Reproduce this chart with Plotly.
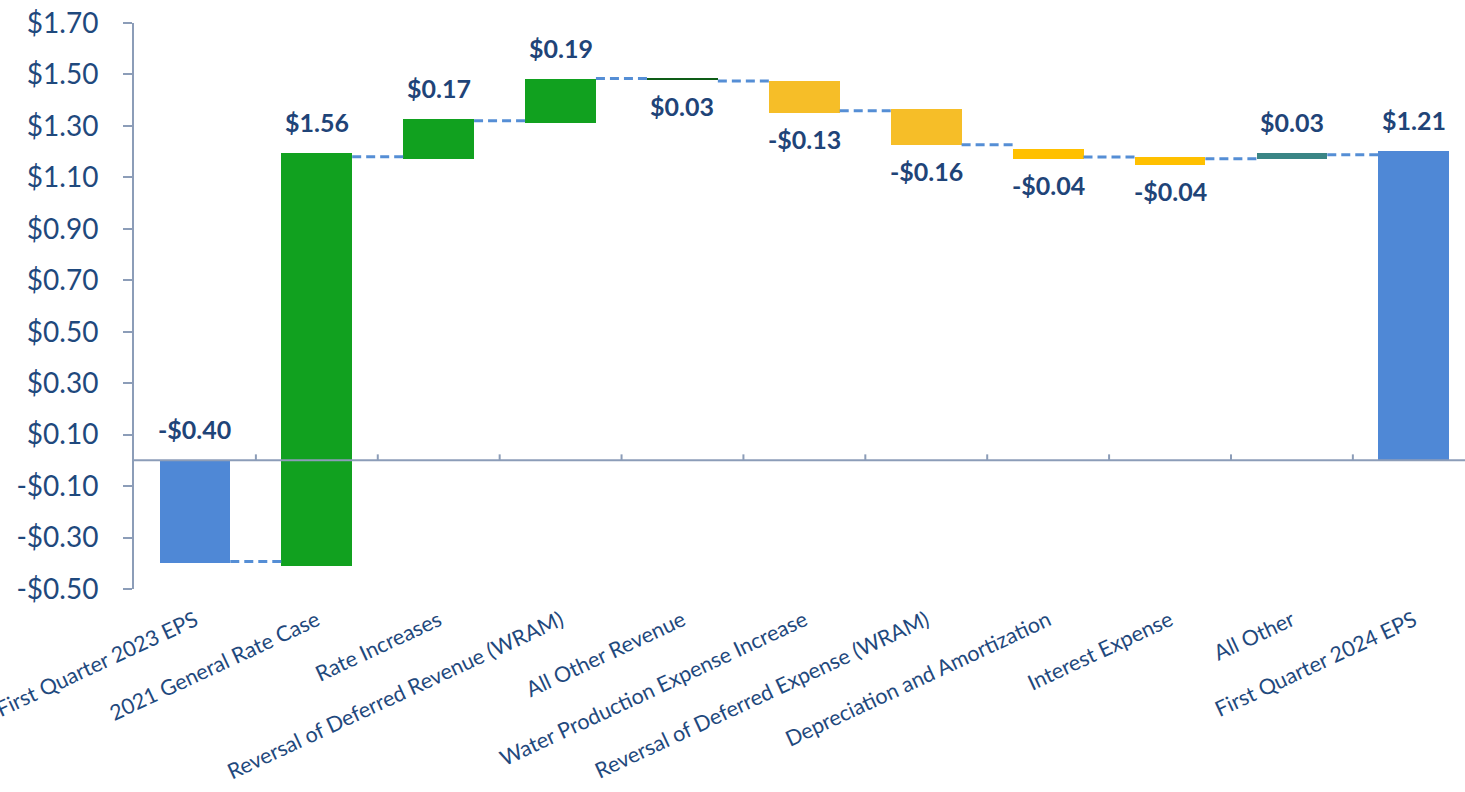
import plotly.graph_objects as go

categories = [
    "First Quarter 2023 EPS",
    "2021 General Rate Case",
    "Rate Increases",
    "Reversal of Deferred Revenue (WRAM)",
    "All Other Revenue",
    "Water Production Expense Increase",
    "Reversal of Deferred Expense (WRAM)",
    "Depreciation and Amortization",
    "Interest Expense",
    "All Other",
    "First Quarter 2024 EPS",
]
# bar extents as drawn
bar_start = [0.0, -0.409, 1.172, 1.313, 1.477, 1.475, 1.366, 1.210, 1.179, 1.172, 0.0]
bar_end = [-0.400, 1.195, 1.327, 1.482, 1.486, 1.351, 1.227, 1.172, 1.149, 1.193, 1.202]
# data-label texts
value_labels = ["-$0.40", "$1.56", "$0.17", "$0.19", "$0.03", "-$0.13",
                "-$0.16", "-$0.04", "-$0.04", "$0.03", "$1.21"]
# dashed connector levels between consecutive bars
connector_levels = [-0.393, 1.180, 1.320, 1.484, 1.475, 1.359, 1.227, 1.179, 1.172, 1.188]
# y-axis ticks
y_tick_values = [-0.5, -0.3, -0.1, 0.1, 0.3, 0.5, 0.7, 0.9, 1.1, 1.3, 1.5, 1.7]
y_tick_labels = ["-$0.50", "-$0.30", "-$0.10", "$0.10", "$0.30", "$0.50",
                 "$0.70", "$0.90", "$1.10", "$1.30", "$1.50", "$1.70"]

# styles
bar_colors = ["#4F88D6", "#11A11F", "#11A11F", "#11A11F", "#0E5C16", "#F6BE28",
              "#F6BE28", "#FFC000", "#FFC000", "#3A8585", "#4F88D6"]
label_side = ["above", "above", "above", "above", "below", "below",
              "below", "below", "below", "above", "above"]
BAR_W = 0.58
TEXT = "#1F497D"
LABEL = "#1F4478"
AXIS = "#8C9DB8"
FONT = "Lato"

x_idx = list(range(len(categories)))
fig = go.Figure()
fig.add_trace(go.Bar(
    x=x_idx,
    base=bar_start,
    y=[e - s for s, e in zip(bar_start, bar_end)],
    width=BAR_W,
    marker=dict(color=bar_colors, line=dict(width=0)),
    hoverinfo="skip",
    showlegend=False,
))

cx, cy = [], []
for i, lvl in enumerate(connector_levels):
    cx += [i + BAR_W / 2, i + 1 - BAR_W / 2, None]
    cy += [lvl, lvl, None]
fig.add_trace(go.Scatter(
    x=cx, y=cy, mode="lines",
    line=dict(color="#558ED5", width=3, dash="9px,5px"),
    hoverinfo="skip", showlegend=False,
))

for i, (s, e, t, side) in enumerate(zip(bar_start, bar_end, value_labels, label_side)):
    if side == "above":
        fig.add_annotation(x=i, y=max(s, e), text=f"<b>{t}</b>", showarrow=False,
                           yanchor="bottom", yshift=14,
                           font=dict(family=FONT, size=25, color=LABEL))
    else:
        fig.add_annotation(x=i, y=min(s, e), text=f"<b>{t}</b>", showarrow=False,
                           yanchor="top", yshift=-9,
                           font=dict(family=FONT, size=25, color=LABEL))

# horizontal category axis line at zero
fig.add_shape(type="line", xref="paper", yref="y", x0=0, x1=1, y0=0, y1=0,
              line=dict(color=AXIS, width=2), layer="above")
for i in range(len(categories) - 1):
    fig.add_shape(type="line", xref="x", yref="y", ysizemode="pixel", yanchor=0,
                  x0=i + 0.5, x1=i + 0.5, y0=0, y1=6,
                  line=dict(color=AXIS, width=2))

fig.update_layout(
    width=1465, height=792,
    margin=dict(l=134, r=0, t=23, b=203),
    paper_bgcolor="white", plot_bgcolor="white",
    bargap=0,
    font=dict(family=FONT, color=TEXT),
    xaxis=dict(
        range=[-0.5, 10.42],
        tickmode="array", tickvals=x_idx, ticktext=categories,
        tickangle=-25, tickfont=dict(family=FONT, size=21.5, color=TEXT),
        showline=False, showgrid=False, zeroline=False, ticks="",
        automargin=False, ticklabelstandoff=14, ticklabeloverflow="allow",
    ),
    yaxis=dict(
        range=[-0.5, 1.7],
        tickmode="array", tickvals=y_tick_values, ticktext=y_tick_labels,
        tickfont=dict(family=FONT, size=28, color=TEXT),
        showline=True, linecolor=AXIS, linewidth=2,
        ticks="outside", ticklen=9, tickwidth=2, tickcolor=AXIS,
        showgrid=False, zeroline=False, automargin=False,
        ticklabelstandoff=19, ticklabeloverflow="allow",
    ),
)

fig.write_html(
    "out.html",
    config={"displayModeBar": False},
    post_script="document.body.style.margin='0';document.body.style.overflow='hidden';",
)
